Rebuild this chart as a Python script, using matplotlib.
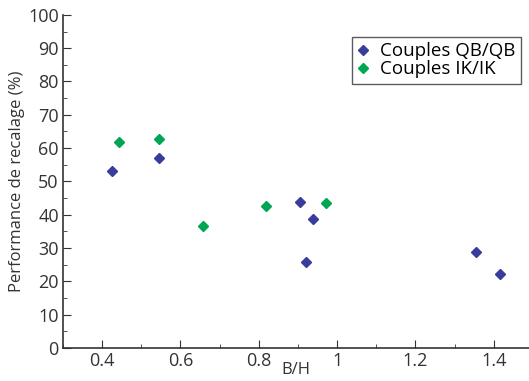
import matplotlib
matplotlib.use("Agg")
import matplotlib.pyplot as plt
from matplotlib.ticker import MultipleLocator

plt.rcParams['font.family'] = ['Open Sans', 'DejaVu Sans']

# Couples QB/QB
qb_x = [0.424, 0.545, 0.905, 0.92, 0.939, 1.355, 1.415]
qb_y = [53.1, 57.1, 43.7, 25.8, 38.6, 28.7, 22.3]

# Couples IK/IK
ik_x = [0.444, 0.545, 0.657, 0.818, 0.971]
ik_y = [61.8, 62.7, 36.5, 42.6, 43.4]

blue = '#383d9c'
green = '#00a651'

fig = plt.figure(figsize=(5.29, 3.81), dpi=100)
ax = fig.add_axes([0.119, 0.087, 0.881, 0.874])

ax.plot(qb_x, qb_y, 'D', color=blue, markersize=5.5, linestyle='none', label='Couples QB/QB')
ax.plot(ik_x, ik_y, 'D', color=green, markersize=5.5, linestyle='none', label='Couples IK/IK')

ax.set_xlim(0.3, 1.49)
ax.set_ylim(0, 100)
ax.xaxis.set_major_locator(MultipleLocator(0.2))
ax.xaxis.set_minor_locator(MultipleLocator(0.1))
ax.yaxis.set_major_locator(MultipleLocator(10))
ax.yaxis.set_minor_locator(MultipleLocator(5))
ax.set_xticks([0.4, 0.6, 0.8, 1.0, 1.2, 1.4])
ax.set_xticklabels(['0.4', '0.6', '0.8', '1', '1.2', '1.4'])

ax.spines['top'].set_visible(False)
ax.spines['right'].set_visible(False)
for s in ['left', 'bottom']:
    ax.spines[s].set_linewidth(1.2)
    ax.spines[s].set_color('#333333')

ax.tick_params(which='both', direction='in', labelsize=13, colors='#333333')
ax.tick_params(which='major', length=6)
ax.tick_params(which='minor', length=3)
ax.tick_params(axis='x', pad=3)
ax.tick_params(axis='y', pad=3)

ax.set_xlabel('B/H', fontsize=12, labelpad=-6, color='#333333')
ax.set_ylabel('Performance de recalage (%)', fontsize=12, labelpad=2, color='#333333')

leg = ax.legend(loc='upper right', bbox_to_anchor=(0.983, 0.935), fontsize=13.5,
                frameon=True, fancybox=False, handlelength=0.6, handletextpad=0.6,
                borderpad=0.3, labelspacing=0.0, borderaxespad=0)
leg.get_frame().set_edgecolor('#333333')
leg.get_frame().set_linewidth(1.0)

fig.savefig('out.png', dpi=100)
